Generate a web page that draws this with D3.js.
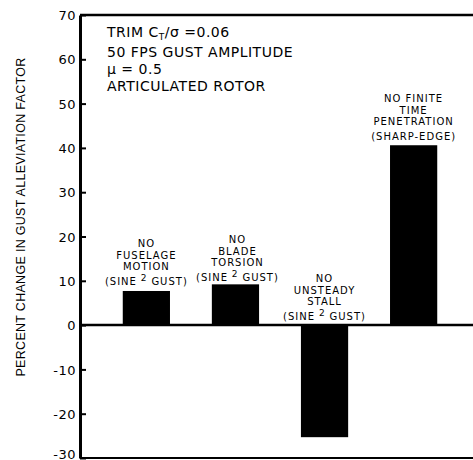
<!DOCTYPE html>
<html>
<head>
<meta charset="utf-8">
<script src="https://cdn.jsdelivr.net/npm/d3@7"></script>
<style>
 body { margin: 0; background: #fff; }
 text { font-family: "DejaVu Sans", sans-serif; fill: #000; }
</style>
</head>
<body>
<script>
 // *** data
 var cases = ["fuselage", "blade", "stall", "finite"];
 var changes = [7.7, 9.2, -25.3, 40.6];
 var caseLabels = [
  ["NO", "FUSELAGE", "MOTION", "(SINE|2|GUST)"],
  ["NO", "BLADE", "TORSION", "(SINE|2|GUST)"],
  ["NO", "UNSTEADY", "STALL", "(SINE|2|GUST)"],
  ["NO FINITE", "TIME", "PENETRATION", "(SHARP-EDGE)"]
 ];
 var yTicks = [70, 60, 50, 40, 30, 20, 10, 0, -10, -20, -30];
 var yTickLabels = ["70", "60", "50", "40", "30", "20", "10", "0", "-10", "-20", "-30"];
 var noteLines = ["TRIM", "50 FPS  GUST AMPLITUDE", "\u03bc = 0.5", "ARTICULATED ROTOR"];

 var width = 473
 var height = 460

 var svg = d3.select('body')
  .append('svg')
  .attr('width', width)
  .attr('height', height);

 var yScale = d3.scaleLinear()
  .domain([-30, 70])
  .range([458, 15]);

 var xScale = d3.scaleBand()
  .domain(cases)
  .range([80, 480])
  .paddingInner(0.47)
  .paddingOuter(0.48);

 // bars
 svg.selectAll('rect.bar')
  .data(cases)
  .enter()
  .append('rect')
  .attr('class', 'bar')
  .attr('x', function(d) { return xScale(d) })
  .attr('width', xScale.bandwidth())
  .attr('y', function(d, i) { return yScale(Math.max(0, changes[i])) })
  .attr('height', function(d, i) { return Math.abs(yScale(changes[i]) - yScale(0)) })
  .attr('fill', '#000');

 // frame lines
 svg.append('line').attr('x1', 80).attr('x2', width).attr('y1', yScale(70)).attr('y2', yScale(70))
  .attr('stroke', '#000').attr('stroke-width', 2.5);
 svg.append('line').attr('x1', 80).attr('x2', width).attr('y1', yScale(0)).attr('y2', yScale(0))
  .attr('stroke', '#000').attr('stroke-width', 2.5);
 svg.append('line').attr('x1', 80).attr('x2', width).attr('y1', yScale(-30)).attr('y2', yScale(-30))
  .attr('stroke', '#000').attr('stroke-width', 2);

 // y axis
 var yAxis = d3.axisLeft(yScale)
  .tickValues(yTicks)
  .tickFormat(function(d, i) { return yTickLabels[i] })
  .tickSizeInner(-6)
  .tickSizeOuter(0)
  .tickPadding(4);

 var gy = svg.append('g')
  .attr('transform', 'translate(80,0)')
  .call(yAxis);
 gy.select('.domain').attr('stroke-width', 3);
 gy.selectAll('.tick line').attr('stroke-width', 2);
 gy.selectAll('.tick text')
  .style('font-family', '"DejaVu Sans", sans-serif')
  .style('font-size', '13px')
  .style('letter-spacing', '0.5px')
  .attr('dy', function(d) { return d == -30 ? '0.05em' : '0.36em' });

 // y axis label
 svg.append('text')
  .attr('transform', 'translate(25,217) rotate(-90)')
  .style('text-anchor', 'middle')
  .style('font-family', '"Liberation Sans", Arial, sans-serif')
  .style('font-size', '12.5px')
  .style('letter-spacing', '0.3px')
  .text('PERCENT CHANGE  IN  GUST  ALLEVIATION  FACTOR');

 // notes in upper left
 var notes = svg.append('g').style('font-size', '14px').style('letter-spacing', '0.5px');
 var trim = notes.append('text').attr('x', 107).attr('y', 37);
 trim.append('tspan').text('TRIM C');
 trim.append('tspan').attr('dy', 3).style('font-size', '9px').text('T');
 trim.append('tspan').attr('dy', -3).text('/\u03c3 =0.06');
 notes.selectAll('text.note')
  .data(noteLines.slice(1))
  .enter()
  .append('text')
  .attr('class', 'note')
  .attr('x', 107)
  .attr('y', function(d, i) { return 57 + i * 17 })
  .text(function(d) { return d });

 // labels above bars
 var labelTops = [247, 243, 282, 102];
 cases.forEach(function(c, i) {
  var cx = xScale(c) + xScale.bandwidth() / 2;
  if (i == 1) cx += 2;
  var g = svg.append('g')
   .style('font-size', '10px')
   .style('letter-spacing', '1px')
   .style('text-anchor', 'middle');
  caseLabels[i].forEach(function(line, j) {
   var y = labelTops[i] + j * 11.5 + (j == 3 ? 3.5 : 0);
   var t = g.append('text').attr('x', cx).attr('y', y);
   var parts = line.split('|');
   if (parts.length == 3) {
    t.append('tspan').text(parts[0]);
    t.append('tspan').attr('dy', -4).style('font-size', '9px').text(' ' + parts[1] + ' ');
    t.append('tspan').attr('dy', 4).text(parts[2]);
   } else {
    t.text(line);
   }
  });
 });
</script>
</body>
</html>
